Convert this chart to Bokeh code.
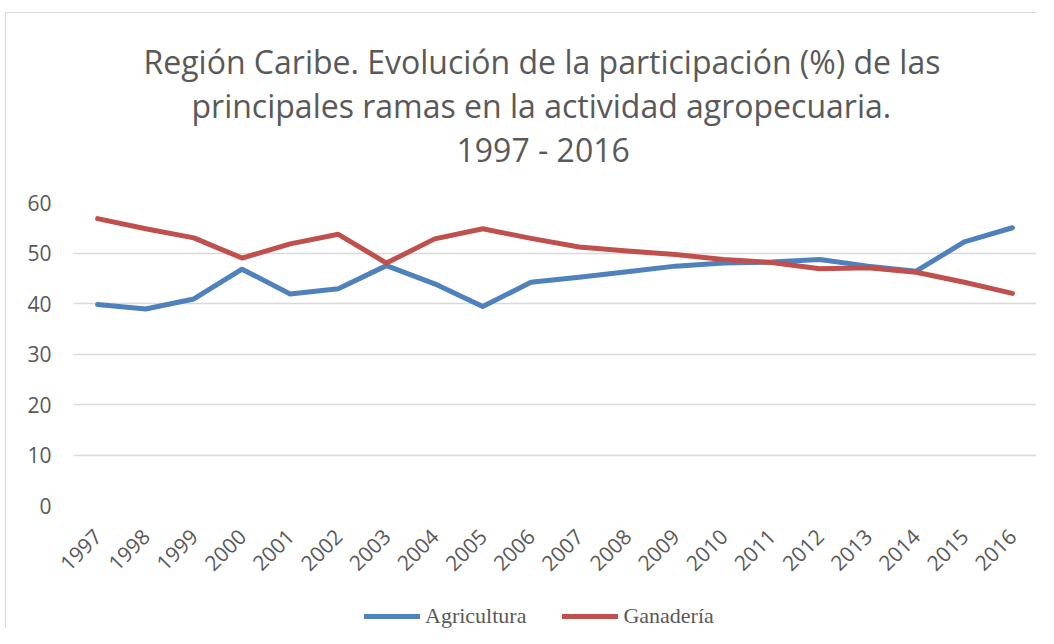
import math
from bokeh.plotting import figure
from bokeh.layouts import column
from bokeh.models import FactorRange, Range1d, Legend, LegendItem, Title, FixedTicker
from bokeh.embed import file_html
from bokeh.resources import INLINE

years = [str(y) for y in range(1997, 2017)]
agricultura = [39.8, 38.9, 40.9, 46.8, 41.9, 42.9, 47.5, 43.9, 39.4, 44.2,
               45.2, 46.3, 47.4, 48.0, 48.2, 48.7, 47.4, 46.4, 52.2, 55.0]
ganaderia = [56.8, 54.8, 53.0, 49.0, 51.8, 53.7, 48.0, 52.8, 54.8, 52.9,
             51.2, 50.4, 49.7, 48.7, 48.1, 46.9, 47.1, 46.2, 44.2, 42.0]
series_names = ["Agricultura", "Ganadería"]
title_lines = ["Región Caribe. Evolución de la participación (%) de las",
               "principales ramas en la actividad agropecuaria.",
               "1997 - 2016"]
y_ticks = [0, 10, 20, 30, 40, 50, 60]

BLUE = "#4f81bd"
RED = "#c0504d"
GREY = "#595959"
W = 1036
BORDER = "#d9d9d9"

p = figure(width=W, height=580, x_range=FactorRange(*years), y_range=Range1d(0, 60),
           output_backend="svg", toolbar_location=None,
           min_border_left=73, min_border_right=0, min_border_top=202, min_border_bottom=74)
p.outline_line_color = None
p.background_fill_color = "white"
p.border_fill_color = None
p.styles = {"background": (f"linear-gradient({BORDER},{BORDER}) 5px 12px / 1px 100% no-repeat, "
                           f"linear-gradient({BORDER},{BORDER}) 5px 12px / 100% 1px no-repeat, white")}

p.line(years, agricultura, line_color=BLUE, line_width=5, line_cap="round", line_join="round")
p.line(years, ganaderia, line_color=RED, line_width=5, line_cap="round", line_join="round")

# spacer between the title block and the plot frame
p.add_layout(Title(text=" ", text_font_size="10px", standoff=19), "above")
title_offsets = [70, 118, 383]
for txt, off in reversed(list(zip(title_lines, title_offsets))):
    t = Title(text=txt, align="left", offset=off, text_font="Open Sans", text_font_size="32px",
              text_color=GREY, text_font_style="normal", standoff=-1)
    p.add_layout(t, "above")

p.xgrid.grid_line_color = None
p.ygrid.grid_line_color = BORDER
p.ygrid.grid_line_width = 1.5
p.yaxis.ticker = FixedTicker(ticks=y_ticks)
for ax in (p.xaxis[0], p.yaxis[0]):
    ax.axis_line_color = None
    ax.major_tick_line_color = None
    ax.minor_tick_line_color = None
    ax.major_label_text_color = GREY
    ax.major_label_text_font = "Open Sans"
    ax.major_label_text_font_size = "21px"
p.yaxis.major_label_standoff = 16
p.xaxis.major_label_orientation = math.pi / 4
p.xaxis.major_label_standoff = 21

# legend strip below the chart
p2 = figure(width=W, height=48, x_range=Range1d(0, 1), y_range=Range1d(0, 1),
            output_backend="svg", toolbar_location=None,
            min_border_left=0, min_border_right=0, min_border_top=0, min_border_bottom=0)
p2.axis.visible = False
p2.grid.visible = False
p2.outline_line_color = None
p2.border_fill_color = None
p2.background_fill_color = None
p2.styles = {"background": f"linear-gradient({BORDER},{BORDER}) 5px 0px / 1px 100% no-repeat, white"}
l1 = p2.line([-2, -1], [-2, -2], line_color=BLUE, line_width=5, line_cap="round")
l2 = p2.line([-2, -1], [-2, -2], line_color=RED, line_width=5, line_cap="round")
legend = Legend(items=[LegendItem(label=series_names[0], renderers=[l1]),
                       LegendItem(label=series_names[1], renderers=[l2])],
                orientation="horizontal", location=(291, -1),
                label_text_font="Liberation Serif", label_text_font_size="22px",
                label_text_color=GREY, glyph_width=56, glyph_height=20,
                label_standoff=5, spacing=36, border_line_color=None,
                background_fill_alpha=0, margin=0, padding=0)
p2.add_layout(legend, "center")

layout = column(p, p2, spacing=0)
open("out.html", "w").write(file_html(layout, INLINE))
